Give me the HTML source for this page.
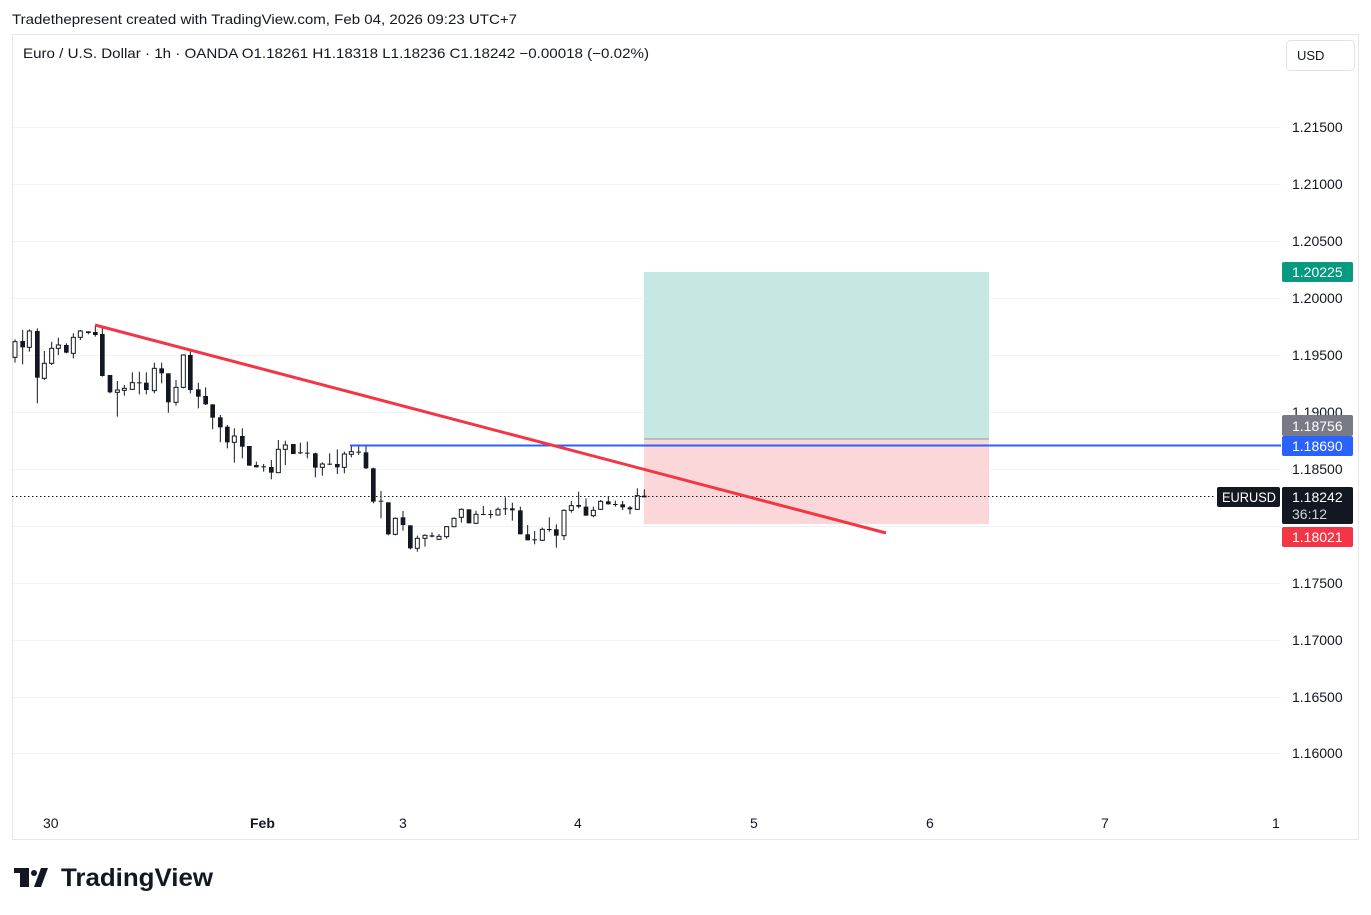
<!DOCTYPE html>
<html><head><meta charset="utf-8"><style>
html,body{margin:0;padding:0;background:#fff;}
svg{display:block;font-family:"Liberation Sans",sans-serif;}
.w{stroke:#131722;stroke-width:3;}
.b{fill:#131722;}
.h{fill:#fff;stroke:#131722;stroke-width:3;}
.g{stroke:#f3f3f3;stroke-width:1;}
.pl{font-size:14px;fill:#131722;}
</style></head><body>
<svg width="1371" height="915" viewBox="0 0 1371 915">
<text x="12" y="24" font-size="14" fill="#131722" textLength="505" lengthAdjust="spacingAndGlyphs">Tradethepresent created with TradingView.com, Feb 04, 2026 09:23 UTC+7</text>
<rect x="12.5" y="34.5" width="1346" height="805" fill="#fff" stroke="#e6e6e6"/>
<!-- grid -->
<g class="g">
<line x1="13" x2="1281" y1="127.5" y2="127.5"/><line x1="13" x2="1281" y1="184.5" y2="184.5"/>
<line x1="13" x2="1281" y1="241.5" y2="241.5"/><line x1="13" x2="1281" y1="298.5" y2="298.5"/>
<line x1="13" x2="1281" y1="355.5" y2="355.5"/><line x1="13" x2="1281" y1="412.5" y2="412.5"/>
<line x1="13" x2="1281" y1="469.5" y2="469.5"/><line x1="13" x2="1281" y1="526.5" y2="526.5"/>
<line x1="13" x2="1281" y1="583.5" y2="583.5"/><line x1="13" x2="1281" y1="640.5" y2="640.5"/>
<line x1="13" x2="1281" y1="697.5" y2="697.5"/><line x1="13" x2="1281" y1="753.5" y2="753.5"/>
</g>
<text x="23" y="58" font-size="14" fill="#131722" textLength="626" lengthAdjust="spacingAndGlyphs">Euro / U.S. Dollar · 1h · OANDA  O1.18261  H1.18318  L1.18236  C1.18242  −0.00018 (−0.02%)</text>
<rect x="1286.5" y="40.5" width="68" height="30" rx="4" fill="#fff" stroke="#e0e3eb"/>
<text x="1297" y="60" font-size="13" fill="#131722">USD</text>
<!-- position boxes -->
<rect x="644" y="272" width="345" height="167" fill="#c6e8e2"/>
<rect x="644" y="439" width="345" height="85" fill="#fcd7da"/>
<line x1="644" x2="989" y1="439" y2="439" stroke="#9598a1" stroke-width="1"/>
<!-- price axis labels -->
<g class="pl" font-size="14">
<text x="1292" y="132">1.21500</text><text x="1292" y="189">1.21000</text>
<text x="1292" y="246">1.20500</text><text x="1292" y="303">1.20000</text>
<text x="1292" y="360">1.19500</text><text x="1292" y="417">1.19000</text>
<text x="1292" y="474">1.18500</text>
<text x="1292" y="588">1.17500</text><text x="1292" y="645">1.17000</text>
<text x="1292" y="702">1.16500</text><text x="1292" y="758">1.16000</text>
</g>
<!-- candles zoom1 -->
<g transform="translate(10,310) scale(0.33333)">
<line class="w" x1="15" x2="15" y1="88" y2="158"/><rect class="h" x="9" y="95" width="12" height="47"/>
<line class="w" x1="38" x2="38" y1="60" y2="163"/><rect class="b" x="31" y="93" width="14" height="19"/>
<line class="w" x1="58" x2="58" y1="58" y2="125"/><rect class="h" x="52" y="63" width="12" height="49"/>
<line class="w" x1="82" x2="82" y1="55" y2="280"/><rect class="b" x="75" y="63" width="14" height="140"/>
<line class="w" x1="103" x2="103" y1="123" y2="210"/><rect class="h" x="97" y="160" width="12" height="45"/>
<line class="w" x1="125" x2="125" y1="95" y2="165"/><rect class="h" x="119" y="115" width="12" height="45"/>
<line class="w" x1="145" x2="145" y1="83" y2="135"/><rect class="h" x="139" y="105" width="12" height="10"/>
<line class="w" x1="169" x2="169" y1="100" y2="130"/><rect class="b" x="162" y="105" width="14" height="23"/>
<line class="w" x1="190" x2="190" y1="70" y2="145"/><rect class="h" x="184" y="82" width="12" height="48"/>
<line class="w" x1="211" x2="211" y1="60" y2="90"/><rect class="h" x="205" y="63" width="12" height="19"/>
<line class="w" x1="235" x2="235" y1="64" y2="73"/><rect class="b" x="228" y="64" width="14" height="5"/>
<line class="w" x1="256" x2="256" y1="48" y2="80"/><rect class="b" x="249" y="66" width="14" height="9"/>
<line class="w" x1="277" x2="277" y1="55" y2="200"/><rect class="b" x="270" y="72" width="14" height="126"/>
<line class="w" x1="300" x2="300" y1="195" y2="250"/><rect class="b" x="293" y="195" width="14" height="52"/>
<line class="w" x1="322" x2="322" y1="213" y2="320"/><rect class="h" x="316" y="240" width="12" height="7"/>
<line class="w" x1="343" x2="343" y1="225" y2="257"/><rect class="h" x="337" y="235" width="12" height="6"/>
<line class="w" x1="367" x2="367" y1="187" y2="240"/><rect class="h" x="361" y="218" width="12" height="20"/>
<line class="w" x1="388" x2="388" y1="185" y2="253"/><rect class="b" x="381" y="217" width="14" height="3"/>
<line class="w" x1="409" x2="409" y1="187" y2="253"/><rect class="b" x="402" y="218" width="14" height="22"/>
<line class="w" x1="433" x2="433" y1="158" y2="250"/><rect class="h" x="427" y="175" width="12" height="67"/>
<line class="w" x1="455" x2="455" y1="158" y2="220"/><rect class="b" x="448" y="175" width="14" height="15"/>
<line class="w" x1="475" x2="475" y1="190" y2="308"/><rect class="b" x="468" y="190" width="14" height="87"/>
<line class="w" x1="498" x2="498" y1="210" y2="287"/><rect class="h" x="492" y="232" width="12" height="45"/>
<line class="w" x1="520" x2="520" y1="133" y2="235"/><rect class="h" x="514" y="135" width="12" height="97"/>
<line class="w" x1="541" x2="541" y1="118" y2="250"/><rect class="b" x="534" y="135" width="14" height="105"/>
<line class="w" x1="565" x2="565" y1="218" y2="295"/><rect class="b" x="558" y="238" width="14" height="22"/>
<line class="w" x1="587" x2="587" y1="232" y2="285"/><rect class="b" x="580" y="258" width="14" height="25"/>
<line class="w" x1="608" x2="608" y1="283" y2="358"/><rect class="b" x="601" y="283" width="14" height="40"/>
<line class="w" x1="631" x2="631" y1="315" y2="397"/><rect class="b" x="624" y="322" width="14" height="30"/>
<line class="w" x1="652" x2="652" y1="345" y2="415"/><rect class="b" x="645" y="350" width="14" height="47"/>
<line class="w" x1="673" x2="673" y1="355" y2="458"/><rect class="h" x="667" y="378" width="12" height="19"/>
<line class="w" x1="697" x2="697" y1="355" y2="445"/><rect class="b" x="690" y="378" width="14" height="32"/>
<line class="w" x1="718" x2="718" y1="408" y2="467"/><rect class="b" x="711" y="408" width="14" height="59"/>
<line class="w" x1="739" x2="739" y1="455" y2="472"/><rect class="b" x="732" y="465" width="14" height="7"/>
<line class="w" x1="761" x2="761" y1="462" y2="485"/><rect class="b" x="754" y="469" width="14" height="3"/>
<line class="w" x1="784" x2="784" y1="450" y2="508"/><rect class="b" x="777" y="471" width="14" height="17"/>
<line class="w" x1="805" x2="805" y1="390" y2="488"/><rect class="h" x="799" y="418" width="12" height="70"/>
<line class="w" x1="826" x2="826" y1="392" y2="465"/><rect class="h" x="820" y="405" width="12" height="13"/>
<line class="w" x1="850" x2="850" y1="402" y2="432"/><rect class="b" x="843" y="402" width="14" height="30"/>
<line class="w" x1="871" x2="871" y1="398" y2="432"/><rect class="b" x="864" y="427" width="14" height="3"/>
<line class="w" x1="892" x2="892" y1="395" y2="445"/><rect class="b" x="885" y="428" width="14" height="3"/>
<line class="w" x1="916" x2="916" y1="428" y2="502"/><rect class="b" x="909" y="430" width="14" height="43"/>
<line class="w" x1="937" x2="937" y1="457" y2="497"/><rect class="h" x="931" y="462" width="12" height="10"/>
<line class="w" x1="959" x2="959" y1="430" y2="465"/><rect class="b" x="952" y="461" width="14" height="3"/>
<line class="w" x1="982" x2="982" y1="418" y2="492"/><rect class="b" x="975" y="462" width="14" height="10"/>
</g>
<!-- candles zoom2 -->
<g transform="translate(340,430) scale(0.33333)">
<line class="w" x1="13" x2="13" y1="65" y2="130"/><rect class="h" x="7" y="72" width="12" height="40"/>
<line class="w" x1="34" x2="34" y1="45" y2="82"/><rect class="h" x="28" y="65" width="12" height="8"/>
<line class="w" x1="56" x2="56" y1="43" y2="75"/><rect class="b" x="49" y="65" width="14" height="3"/>
<line class="w" x1="78" x2="78" y1="45" y2="117"/><rect class="b" x="71" y="67" width="14" height="48"/>
<line class="w" x1="100" x2="100" y1="113" y2="220"/><rect class="b" x="93" y="115" width="14" height="100"/>
<line class="w" x1="123" x2="123" y1="183" y2="265"/><rect class="b" x="116" y="212" width="14" height="3"/>
<line class="w" x1="145" x2="145" y1="217" y2="316"/><rect class="b" x="138" y="217" width="14" height="96"/>
<line class="w" x1="166" x2="166" y1="262" y2="316"/><rect class="h" x="160" y="265" width="12" height="48"/>
<line class="w" x1="189" x2="189" y1="243" y2="302"/><rect class="b" x="182" y="262" width="14" height="23"/>
<line class="w" x1="211" x2="211" y1="286" y2="358"/><rect class="b" x="204" y="286" width="14" height="69"/>
<line class="w" x1="232" x2="232" y1="317" y2="365"/><rect class="h" x="226" y="325" width="12" height="30"/>
<line class="w" x1="255" x2="255" y1="313" y2="350"/><rect class="h" x="249" y="316" width="12" height="9"/>
<line class="w" x1="276" x2="276" y1="307" y2="322"/><rect class="b" x="269" y="316" width="14" height="4"/>
<line class="w" x1="297" x2="297" y1="312" y2="330"/><rect class="h" x="291" y="319" width="12" height="9"/>
<line class="w" x1="320" x2="320" y1="288" y2="326"/><rect class="h" x="314" y="290" width="12" height="30"/>
<line class="w" x1="342" x2="342" y1="262" y2="292"/><rect class="h" x="336" y="265" width="12" height="25"/>
<line class="w" x1="364" x2="364" y1="235" y2="278"/><rect class="h" x="358" y="238" width="12" height="24"/>
<line class="w" x1="387" x2="387" y1="238" y2="280"/><rect class="b" x="380" y="238" width="14" height="42"/>
<line class="w" x1="408" x2="408" y1="242" y2="282"/><rect class="h" x="402" y="253" width="12" height="27"/>
<line class="w" x1="430" x2="430" y1="228" y2="255"/><rect class="b" x="423" y="252" width="14" height="3"/>
<line class="w" x1="452" x2="452" y1="240" y2="265"/><rect class="b" x="445" y="252" width="14" height="3"/>
<line class="w" x1="474" x2="474" y1="232" y2="257"/><rect class="h" x="468" y="238" width="12" height="17"/>
<line class="w" x1="496" x2="496" y1="202" y2="255"/><rect class="b" x="489" y="235" width="14" height="3"/>
<line class="w" x1="517" x2="517" y1="218" y2="272"/><rect class="b" x="510" y="235" width="14" height="6"/>
<line class="w" x1="541" x2="541" y1="230" y2="313"/><rect class="b" x="534" y="241" width="14" height="72"/>
<line class="w" x1="563" x2="563" y1="285" y2="331"/><rect class="b" x="556" y="313" width="14" height="18"/>
<line class="w" x1="584" x2="584" y1="303" y2="343"/><rect class="b" x="577" y="328" width="14" height="3"/>
<line class="w" x1="607" x2="607" y1="293" y2="333"/><rect class="h" x="601" y="298" width="12" height="33"/>
<line class="w" x1="628" x2="628" y1="262" y2="305"/><rect class="b" x="621" y="297" width="14" height="3"/>
<line class="w" x1="649" x2="649" y1="283" y2="353"/><rect class="b" x="642" y="298" width="14" height="19"/>
<line class="w" x1="672" x2="672" y1="238" y2="330"/><rect class="h" x="666" y="241" width="12" height="76"/>
<line class="w" x1="694" x2="694" y1="213" y2="248"/><rect class="h" x="688" y="227" width="12" height="14"/>
<line class="w" x1="716" x2="716" y1="185" y2="235"/><rect class="b" x="709" y="225" width="14" height="5"/>
<line class="w" x1="738" x2="738" y1="205" y2="257"/><rect class="b" x="731" y="230" width="14" height="27"/>
<line class="w" x1="760" x2="760" y1="230" y2="262"/><rect class="h" x="754" y="241" width="12" height="16"/>
<line class="w" x1="782" x2="782" y1="210" y2="240"/><rect class="h" x="776" y="214" width="12" height="24"/>
<line class="w" x1="805" x2="805" y1="198" y2="224"/><rect class="b" x="798" y="214" width="14" height="9"/>
<line class="w" x1="826" x2="826" y1="212" y2="230"/><rect class="b" x="819" y="222" width="14" height="3"/>
<line class="w" x1="848" x2="848" y1="213" y2="240"/><rect class="b" x="841" y="223" width="14" height="9"/>
<line class="w" x1="870" x2="870" y1="228" y2="253"/><rect class="b" x="863" y="232" width="14" height="6"/>
<line class="w" x1="892" x2="892" y1="175" y2="240"/><rect class="h" x="886" y="197" width="12" height="41"/>
<line class="w" x1="913" x2="913" y1="178" y2="202"/><rect class="b" x="906" y="197" width="14" height="5"/>
</g>
<!-- lines -->
<line x1="12" x2="1216" y1="496.5" y2="496.5" stroke="#131722" stroke-width="1" stroke-dasharray="1.5,2.5"/>
<line x1="350" x2="1281" y1="445.5" y2="445.5" stroke="#2962ff" stroke-width="2"/>
<line x1="95" y1="325" x2="886" y2="533" stroke="#f23645" stroke-width="3"/>
<!-- price tags -->
<rect x="1282" y="262" width="71" height="20" rx="2" fill="#089981"/>
<text x="1292" y="277" font-size="14" fill="#fff">1.20225</text>
<rect x="1282" y="415" width="71" height="21" rx="2" fill="#787b86"/>
<text x="1292" y="431" font-size="14" fill="#fff">1.18756</text>
<rect x="1282" y="436" width="71" height="20" rx="2" fill="#2962ff"/>
<text x="1292" y="451" font-size="14" fill="#fff">1.18690</text>
<rect x="1217" y="487" width="63" height="20" rx="2" fill="#131722"/>
<text x="1222" y="502" font-size="14" fill="#fff" textLength="54" lengthAdjust="spacingAndGlyphs">EURUSD</text>
<rect x="1282" y="487" width="71" height="37" rx="2" fill="#131722"/>
<text x="1292" y="502" font-size="14" fill="#fff">1.18242</text>
<text x="1292" y="519" font-size="14" fill="#d1d4dc">36:12</text>
<rect x="1282" y="527" width="71" height="20" rx="2" fill="#f23645"/>
<text x="1292" y="542" font-size="14" fill="#fff">1.18021</text>
<!-- time axis -->
<g font-size="14" fill="#131722">
<text x="43" y="828">30</text>
<text x="250" y="828" font-weight="bold">Feb</text>
<text x="399" y="828">3</text><text x="574" y="828">4</text><text x="750" y="828">5</text>
<text x="926" y="828">6</text><text x="1101" y="828">7</text><text x="1272" y="828">1</text>
</g>
<!-- logo -->
<g fill="#131722">
<rect x="14" y="868" width="15" height="5"/><rect x="20" y="868" width="9" height="19"/>
<circle cx="34" cy="873" r="3"/>
<polygon points="41,868 48,868 41,887 34,887"/>
</g>
<text x="61" y="886" font-size="25" font-weight="bold" fill="#131722" textLength="152" lengthAdjust="spacingAndGlyphs">TradingView</text>
</svg>
</body></html>
